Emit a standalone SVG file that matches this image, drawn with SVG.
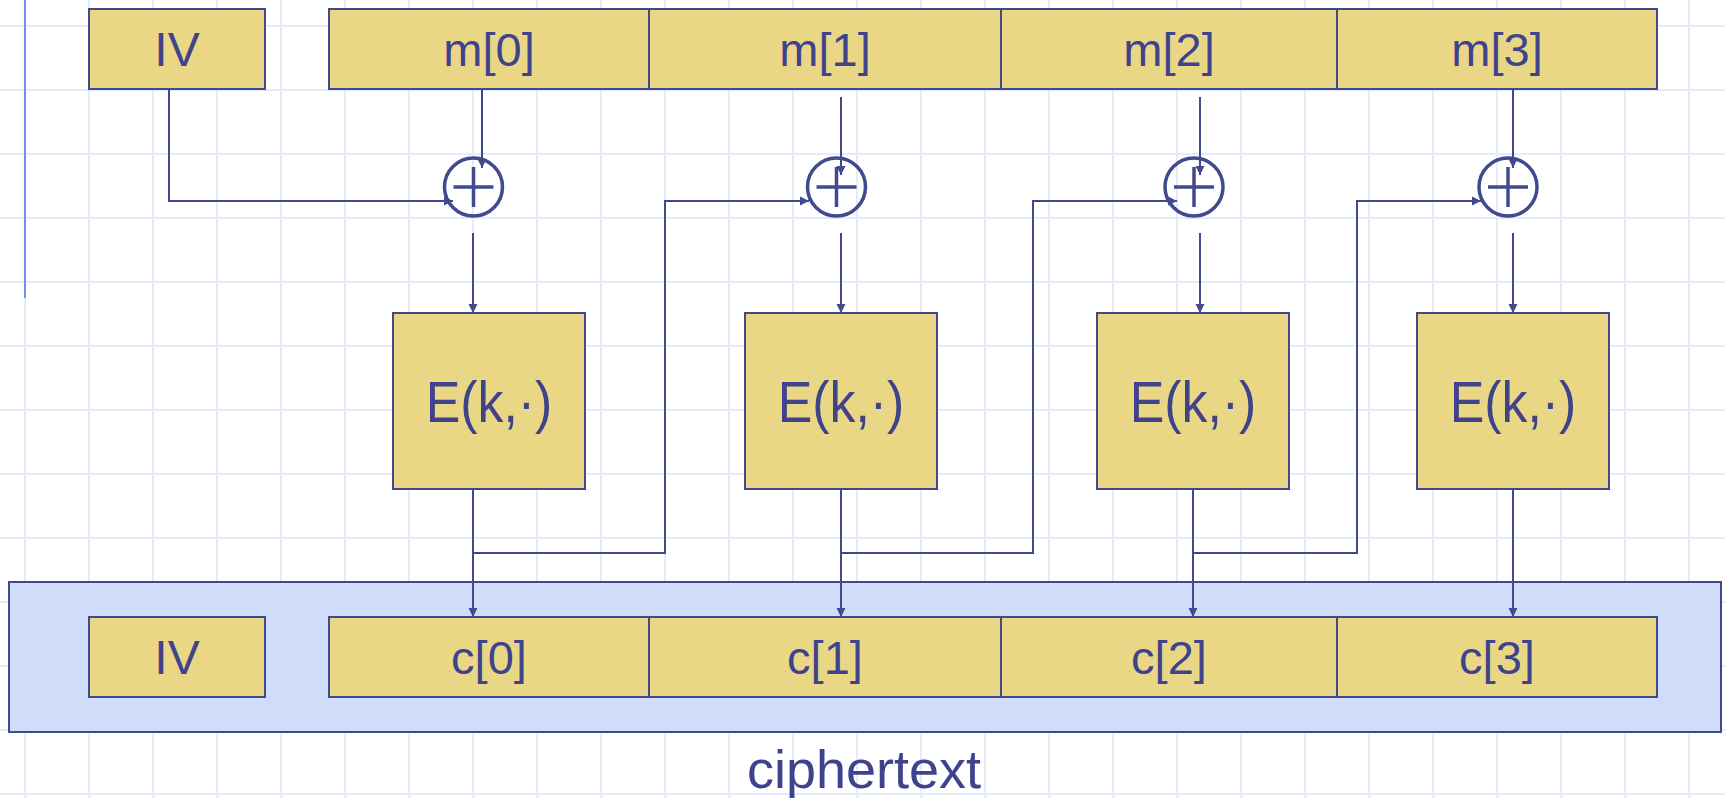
<svg xmlns="http://www.w3.org/2000/svg" width="1725" height="798" viewBox="0 0 1725 798">
  <style>
    .grid line { stroke: #e5eafc; stroke-width: 2; }
    .blk { fill: #ead786; stroke: #414a8c; stroke-width: 2; }
    .sep { stroke: #414a8c; stroke-width: 2; }
    .lbl { font-family: "Liberation Sans", Arial, sans-serif; font-size: 47px; fill: #3e438c; text-anchor: middle; }
    .enc { font-size: 57px; }
    .xor circle { fill: none; stroke: #414a8c; stroke-width: 3.5; }
    .xor path { stroke: #414a8c; stroke-width: 3.5; fill: none; }
    .wire { fill: none; stroke: #414a8c; stroke-width: 2; marker-end: url(#tip); }
  </style>
  <defs>
    <marker id="tip" viewBox="0 0 10 10" refX="10" refY="5" markerWidth="9" markerHeight="10" markerUnits="userSpaceOnUse" orient="auto">
      <path d="M0,0 L10,5 L0,10 Z" fill="#414a8c"/>
    </marker>
  </defs>

  <rect width="1725" height="798" fill="#ffffff"/>

  <!-- background grid, 64px pitch -->
  <g class="grid">
    <line x1="25" y1="0" x2="25" y2="798"/><line x1="89" y1="0" x2="89" y2="798"/>
    <line x1="153" y1="0" x2="153" y2="798"/><line x1="217" y1="0" x2="217" y2="798"/>
    <line x1="281" y1="0" x2="281" y2="798"/><line x1="345" y1="0" x2="345" y2="798"/>
    <line x1="409" y1="0" x2="409" y2="798"/><line x1="473" y1="0" x2="473" y2="798"/>
    <line x1="537" y1="0" x2="537" y2="798"/><line x1="601" y1="0" x2="601" y2="798"/>
    <line x1="665" y1="0" x2="665" y2="798"/><line x1="729" y1="0" x2="729" y2="798"/>
    <line x1="793" y1="0" x2="793" y2="798"/><line x1="857" y1="0" x2="857" y2="798"/>
    <line x1="921" y1="0" x2="921" y2="798"/><line x1="985" y1="0" x2="985" y2="798"/>
    <line x1="1049" y1="0" x2="1049" y2="798"/><line x1="1113" y1="0" x2="1113" y2="798"/>
    <line x1="1177" y1="0" x2="1177" y2="798"/><line x1="1241" y1="0" x2="1241" y2="798"/>
    <line x1="1305" y1="0" x2="1305" y2="798"/><line x1="1369" y1="0" x2="1369" y2="798"/>
    <line x1="1433" y1="0" x2="1433" y2="798"/><line x1="1497" y1="0" x2="1497" y2="798"/>
    <line x1="1561" y1="0" x2="1561" y2="798"/><line x1="1625" y1="0" x2="1625" y2="798"/>
    <line x1="1689" y1="0" x2="1689" y2="798"/>
    <line x1="0" y1="26" x2="1725" y2="26"/><line x1="0" y1="90" x2="1725" y2="90"/>
    <line x1="0" y1="154" x2="1725" y2="154"/><line x1="0" y1="218" x2="1725" y2="218"/>
    <line x1="0" y1="282" x2="1725" y2="282"/><line x1="0" y1="346" x2="1725" y2="346"/>
    <line x1="0" y1="410" x2="1725" y2="410"/><line x1="0" y1="474" x2="1725" y2="474"/>
    <line x1="0" y1="538" x2="1725" y2="538"/><line x1="0" y1="602" x2="1725" y2="602"/>
    <line x1="0" y1="666" x2="1725" y2="666"/><line x1="0" y1="730" x2="1725" y2="730"/>
    <line x1="0" y1="794" x2="1725" y2="794"/>
  </g>
  <line x1="25" y1="0" x2="25" y2="298" stroke="#6f8ff0" stroke-width="2"/>

  <!-- ciphertext container -->
  <g id="ciphertext">
    <rect x="9" y="582" width="1712" height="150" fill="#cfdcfa" stroke="#414a8c" stroke-width="2"/>
    <text class="lbl" x="864" y="788" style="font-size:54px">ciphertext</text>
  </g>

  <!-- plaintext row -->
  <g id="iv-in">
    <rect class="blk" x="89" y="9" width="176" height="80"/>
    <text class="lbl" x="177" y="66" style="font-size:48px">IV</text>
  </g>
  <g id="msg">
    <rect class="blk" x="329" y="9" width="1328" height="80"/>
    <line class="sep" x1="649" y1="9" x2="649" y2="89"/>
    <line class="sep" x1="1001" y1="9" x2="1001" y2="89"/>
    <line class="sep" x1="1337" y1="9" x2="1337" y2="89"/>
    <text class="lbl" x="489" y="66">m[0]</text>
    <text class="lbl" x="825" y="66">m[1]</text>
    <text class="lbl" x="1169" y="66">m[2]</text>
    <text class="lbl" x="1497" y="66">m[3]</text>
  </g>

  <!-- XOR gates -->
  <g id="xor0" class="xor"><circle cx="473.5" cy="187" r="29"/><path d="M453.5,187 H493.5 M473.5,167 V207"/></g>
  <g id="xor1" class="xor"><circle cx="836.5" cy="187" r="29"/><path d="M816.5,187 H856.5 M836.5,167 V207"/></g>
  <g id="xor2" class="xor"><circle cx="1194" cy="187" r="29"/><path d="M1174,187 H1214 M1194,167 V207"/></g>
  <g id="xor3" class="xor"><circle cx="1508" cy="187" r="29"/><path d="M1488,187 H1528 M1508,167 V207"/></g>

  <!-- block cipher invocations -->
  <g id="enc0"><rect class="blk" x="393" y="313" width="192" height="176"/><text class="lbl enc" transform="translate(489,422) scale(0.91,1)">E(k,·)</text></g>
  <g id="enc1"><rect class="blk" x="745" y="313" width="192" height="176"/><text class="lbl enc" transform="translate(841,422) scale(0.91,1)">E(k,·)</text></g>
  <g id="enc2"><rect class="blk" x="1097" y="313" width="192" height="176"/><text class="lbl enc" transform="translate(1193,422) scale(0.91,1)">E(k,·)</text></g>
  <g id="enc3"><rect class="blk" x="1417" y="313" width="192" height="176"/><text class="lbl enc" transform="translate(1513,422) scale(0.91,1)">E(k,·)</text></g>

  <!-- output row -->
  <g id="iv-out">
    <rect class="blk" x="89" y="617" width="176" height="80"/>
    <text class="lbl" x="177" y="674" style="font-size:48px">IV</text>
  </g>
  <g id="ct">
    <rect class="blk" x="329" y="617" width="1328" height="80"/>
    <line class="sep" x1="649" y1="617" x2="649" y2="697"/>
    <line class="sep" x1="1001" y1="617" x2="1001" y2="697"/>
    <line class="sep" x1="1337" y1="617" x2="1337" y2="697"/>
    <text class="lbl" x="489" y="674">c[0]</text>
    <text class="lbl" x="825" y="674">c[1]</text>
    <text class="lbl" x="1169" y="674">c[2]</text>
    <text class="lbl" x="1497" y="674">c[3]</text>
  </g>

  <!-- connectors -->
  <g id="wires">
    <path class="wire" d="M169,89 V201 H453"/>
    <path class="wire" d="M482,89 V168"/>
    <path class="wire" d="M473,233 V313"/>
    <path class="wire" d="M473,489 V617"/>
    <path class="wire" d="M473,553 H665 V201 H809"/>

    <path class="wire" d="M841,97 V175"/>
    <path class="wire" d="M841,233 V313"/>
    <path class="wire" d="M841,489 V617"/>
    <path class="wire" d="M841,553 H1033 V201 H1177"/>

    <path class="wire" d="M1200,97 V175"/>
    <path class="wire" d="M1200,233 V313"/>
    <path class="wire" d="M1193,489 V617"/>
    <path class="wire" d="M1193,553 H1357 V201 H1481"/>

    <path class="wire" d="M1513,89 V168"/>
    <path class="wire" d="M1513,233 V313"/>
    <path class="wire" d="M1513,489 V617"/>
  </g>
</svg>
